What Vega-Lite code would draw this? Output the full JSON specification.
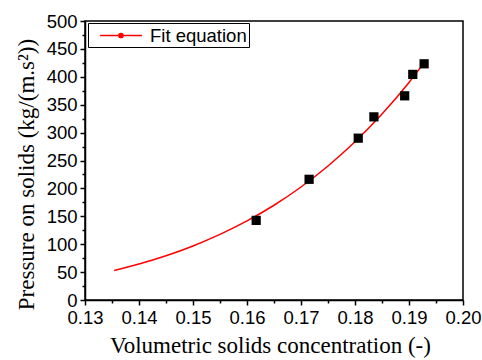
{
  "$schema": "https://vega.github.io/schema/vega-lite/v6.json",
  "width": 378,
  "height": 279,
  "autosize": {"type": "none"},
  "padding": {"left": 85, "top": 21, "right": 19, "bottom": 60},
  "background": "white",
  "config": {
    "view": {"stroke": "black", "strokeWidth": 1.5},
    "axis": {
      "domainColor": "black",
      "domainWidth": 1.5,
      "tickColor": "black",
      "tickWidth": 1.5,
      "grid": false,
      "labelFont": "Liberation Sans",
      "labelFontSize": 18.5,
      "labelColor": "black",
      "titleFont": "Liberation Serif",
      "titleFontSize": 23,
      "titleFontWeight": "normal",
      "titleColor": "black"
    }
  },
  "layer": [
    {
      "data": {
        "values": [
          {"c": 0.1354, "p": 53.0, "series": "Fit equation"},
          {"c": 0.14, "p": 64.5, "series": "Fit equation"},
          {"c": 0.145, "p": 79.3, "series": "Fit equation"},
          {"c": 0.15, "p": 96.9, "series": "Fit equation"},
          {"c": 0.155, "p": 117.5, "series": "Fit equation"},
          {"c": 0.16, "p": 141.7, "series": "Fit equation"},
          {"c": 0.165, "p": 169.8, "series": "Fit equation"},
          {"c": 0.17, "p": 202.5, "series": "Fit equation"},
          {"c": 0.175, "p": 240.2, "series": "Fit equation"},
          {"c": 0.18, "p": 283.5, "series": "Fit equation"},
          {"c": 0.185, "p": 333.2, "series": "Fit equation"},
          {"c": 0.19, "p": 389.9, "series": "Fit equation"},
          {"c": 0.193, "p": 427.6, "series": "Fit equation"}
        ]
      },
      "mark": {"type": "line", "interpolate": "monotone", "strokeWidth": 1.5},
      "encoding": {
        "x": {
          "field": "c", "type": "quantitative",
          "scale": {"domain": [0.13, 0.2], "nice": false, "zero": false},
          "axis": {
            "orient": "bottom",
            "values": [0.13, 0.14, 0.15, 0.16, 0.17, 0.18, 0.19, 0.2],
            "format": ".2f",
            "tickSize": 5,
            "labelPadding": 3,
            "labelFlush": false,
            "labelOverlap": false,
            "title": "Volumetric solids concentration (-)",
            "titlePadding": 8,
            "titleX": 185
          }
        },
        "y": {
          "field": "p", "type": "quantitative",
          "scale": {"domain": [0, 500], "nice": false},
          "axis": {
            "orient": "left",
            "values": [0, 50, 100, 150, 200, 250, 300, 350, 400, 450, 500],
            "tickSize": 5,
            "labelPadding": 3,
            "labelFlush": false,
            "labelOverlap": false,
            "title": "Pressure on solids (kg/(m.s²))",
            "titlePadding": 8,
            "titleY": 153
          }
        },
        "color": {
          "field": "series", "type": "nominal",
          "scale": {"range": ["red"]},
          "legend": {
            "orient": "none",
            "legendX": 3,
            "legendY": 2,
            "title": null,
            "strokeColor": "black",
            "padding": 2,
            "symbolType": "M-2.2,0H2.2M-0.22,0A0.22,0.22,0,1,0,0.22,0A0.22,0.22,0,1,0,-0.22,0Z",
            "symbolSize": 361,
            "symbolOffset": 20.5,
            "symbolStrokeWidth": 1.5,
            "symbolFillColor": "red",
            "labelFont": "Liberation Sans",
            "labelFontSize": 18.5,
            "labelColor": "black",
            "labelOffset": 18.5
          }
        }
      }
    },
    {
      "data": {
        "values": [
          {"c": 0.1617, "p": 142.7},
          {"c": 0.1715, "p": 216.3},
          {"c": 0.1806, "p": 290.0},
          {"c": 0.1835, "p": 328.2},
          {"c": 0.1892, "p": 365.9},
          {"c": 0.1907, "p": 404.3},
          {"c": 0.1928, "p": 423.3}
        ]
      },
      "mark": {"type": "point", "shape": "square", "filled": true, "color": "black", "opacity": 1, "size": 85},
      "encoding": {
        "x": {
          "field": "c", "type": "quantitative",
          "axis": {
            "orient": "bottom",
            "values": [0.135, 0.145, 0.155, 0.165, 0.175, 0.185, 0.195],
            "labels": false,
            "domain": false,
            "tickSize": 3,
            "title": null
          }
        },
        "y": {
          "field": "p", "type": "quantitative",
          "axis": {
            "orient": "left",
            "values": [25, 75, 125, 175, 225, 275, 325, 375, 425, 475],
            "labels": false,
            "domain": false,
            "tickSize": 3,
            "title": null
          }
        }
      }
    }
  ],
  "resolve": {"axis": {"x": "independent", "y": "independent"}}
}
